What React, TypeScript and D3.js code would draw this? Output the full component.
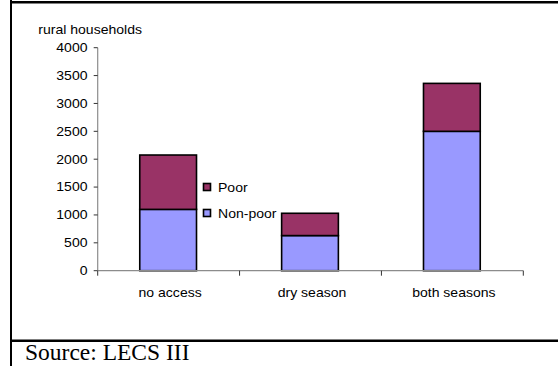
import React from "react";
import * as d3 from "d3";

const categories = ["no access", "dry season", "both seasons"];
const nonPoor = [1100, 630, 2500];
const poor = [975, 400, 860];
const seriesNames = ["Non-poor", "Poor"];
const yTicks = [0, 500, 1000, 1500, 2000, 2500, 3000, 3500, 4000];
const yTitle = "rural households";
const sourceText = "Source: LECS III";

const W = 558;
const H = 366;
const COLORS: Record<string, string> = { "Non-poor": "#9999FF", Poor: "#993366" };
const FONT = "'Liberation Sans', Arial, sans-serif";
const FS = 12;
const SX = 1.17;

function T(props: { x: number; y: number; anchor?: "start" | "middle" | "end"; dy?: string; size?: number; children: React.ReactNode }) {
  const { x, y, anchor = "start", dy, size = FS, children } = props;
  return (
    <text
      transform={`translate(${x},${y}) scale(${SX},1)`}
      dy={dy}
      textAnchor={anchor}
      fontFamily={FONT}
      fontSize={size}
      fill="#000"
    >
      {children}
    </text>
  );
}

export default function App() {
  React.useEffect(() => {
    document.body.style.margin = "0";
  }, []);

  const x = d3
    .scaleBand<string>()
    .domain(categories)
    .range([97.2, 522.8])
    .paddingInner(0.6)
    .paddingOuter(0.3);
  const y = d3.scaleLinear().domain([0, 4000]).range([270.7, 47.7]);

  const rows = categories.map((c, i) => ({ cat: c, "Non-poor": nonPoor[i], Poor: poor[i] }));
  const stacked = d3.stack<any>().keys(seriesNames)(rows);

  const x0 = 97.7;
  const xEnd = 523.3;
  const sepTicks = [0, 1, 2, 3].map((k) => x0 + k * ((xEnd - x0) / 3));

  return (
    <svg width={W} height={H} style={{ position: "absolute", left: 0, top: 0, display: "block" }}>
      <rect x={0} y={0} width={W} height={H} fill="#fff" />
      {/* frame */}
      <line x1={11} y1={0} x2={11} y2={H} stroke="#000" strokeWidth={2} />
      <line x1={10} y1={2.2} x2={W} y2={2.2} stroke="#000" strokeWidth={2.5} />
      <line x1={10} y1={340.7} x2={W} y2={340.7} stroke="#000" strokeWidth={2.6} />

      {/* y title */}
      <T x={38.3} y={33.7}>{yTitle}</T>

      {/* bars */}
      {stacked.map((s) =>
        s.map((d, i) => (
          <rect
            key={s.key + i}
            x={x(categories[i])!}
            y={y(d[1])}
            width={x.bandwidth()}
            height={y(d[0]) - y(d[1])}
            fill={COLORS[s.key]}
            stroke="#000"
            strokeWidth={1.6}
          />
        ))
      )}

      {/* y axis */}
      <line x1={x0} y1={y(4000)} x2={x0} y2={y(0)} stroke="#8c8c8c" strokeWidth={1.2} />
      {yTicks.map((t) => (
        <g key={t}>
          <line x1={x0 - 4} y1={y(t)} x2={x0} y2={y(t)} stroke="#333" strokeWidth={1} />
          <T x={87.5} y={y(t)} dy="0.36em" anchor="end">{t}</T>
        </g>
      ))}

      {/* x axis */}
      <line x1={x0} y1={y(0)} x2={xEnd} y2={y(0)} stroke="#8c8c8c" strokeWidth={1.2} />
      {sepTicks.map((t, k) => (
        <line key={k} x1={t} y1={y(0)} x2={t} y2={y(0) + 5} stroke="#333" strokeWidth={1} />
      ))}
      {categories.map((c) => (
        <T key={c} x={x(c)! + x.bandwidth() / 2 + 2} y={296.7} anchor="middle">{c}</T>
      ))}

      {/* legend */}
      {["Poor", "Non-poor"].map((n, i) => (
        <g key={n} transform={`translate(0, ${i * 26})`}>
          <rect x={203.5} y={183.5} width={7} height={7} fill={COLORS[n]} stroke="#000" strokeWidth={1.6} />
          <T x={218} y={191.5}>{n}</T>
        </g>
      ))}

      {/* source */}
      <text x={25} y={359.5} fontFamily="'Liberation Serif', 'Times New Roman', serif" fontSize={23.5} fill="#000">
        {sourceText}
      </text>
    </svg>
  );
}
